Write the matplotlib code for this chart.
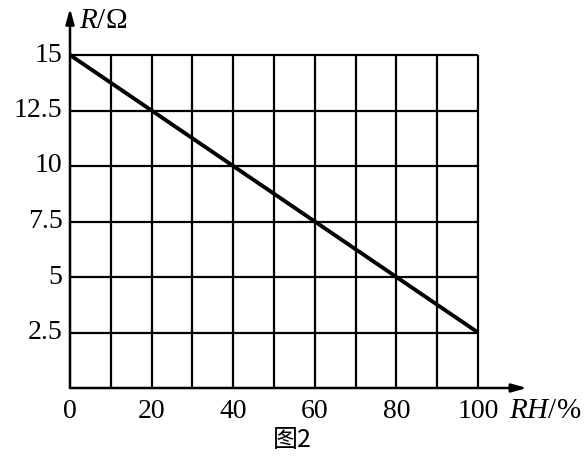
import matplotlib
matplotlib.use("Agg")
import matplotlib.pyplot as plt
import numpy as np

# data
rh = [0, 100]
r = [15, 2.5]
x_ticks = [0, 20, 40, 60, 80, 100]
y_ticks = [2.5, 5, 7.5, 10, 12.5, 15]
y_tick_labels = ["2.5", "5", "7.5", "10", "12.5", "15"]
x_grid = np.arange(10, 101, 10)
y_grid = y_ticks

plt.rcParams['font.family'] = ['Liberation Serif', 'DejaVu Serif']
plt.rcParams['mathtext.fontset'] = 'custom'
plt.rcParams['mathtext.it'] = 'Liberation Serif:italic'
plt.rcParams['mathtext.rm'] = 'Liberation Serif'

W, H = 584, 468
fig = plt.figure(figsize=(W / 100, H / 100), dpi=100)
ax = fig.add_axes([70 / W, (H - 388) / H, (478 - 70) / W, (388 - 55) / H])
ax.set_xlim(0, 100)
ax.set_ylim(0, 15)
ax.axis("off")

# grid
ax.vlines(x_grid, 0, 15, color="black", lw=1.6, clip_on=False)
ax.hlines(y_grid, 0, 100, color="black", lw=1.6, clip_on=False)

# axes with arrows
arrow = dict(arrowstyle="-|>,head_length=0.9,head_width=0.25",
             color="black", lw=1.8, shrinkA=0, shrinkB=0)
ax.annotate("", xy=(112, 0), xytext=(0, 0), arrowprops=arrow, annotation_clip=False)
ax.annotate("", xy=(0, 17.1), xytext=(0, 0), arrowprops=arrow, annotation_clip=False)

# line
ax.plot(rh, r, color="black", lw=2.8, solid_capstyle="butt", clip_on=False)

# tick labels
for xv in x_ticks:
    ax.text(xv, -0.5, str(xv), ha="center", va="top", fontsize=20)
for yv, lab in zip(y_ticks, y_tick_labels):
    ax.text(-1.8, yv, lab, ha="right", va="center", fontsize=20)

# axis labels
ax.text(116.5, -1.05, "$RH$/%", ha="center", va="center", fontsize=21)
ax.text(8.0, 16.55, "$R$/Ω", ha="center", va="center", fontsize=21)

fig.text(292 / W, 1 - 440 / H, "图2", ha="center", va="center", fontsize=18,
         family=['Noto Sans CJK SC', 'DejaVu Sans'])

fig.savefig("out.png", dpi=100, facecolor="white")
